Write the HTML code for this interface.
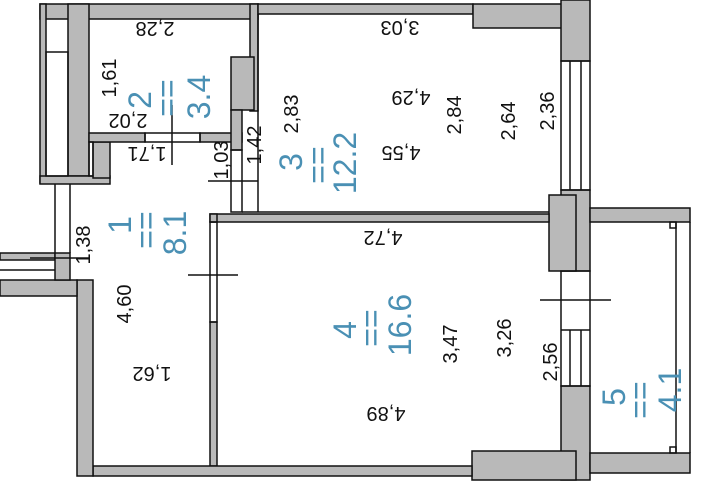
<!DOCTYPE html>
<html><head><style>
html,body{margin:0;padding:0;background:#fff;}
svg{display:block;}
text{font-family:"Liberation Sans",sans-serif;}
.d{font-size:20px;fill:#111;}
.b{font-size:32px;fill:#4a90b4;}
</style></head><body>
<svg width="702" height="492" viewBox="0 0 702 492" xmlns="http://www.w3.org/2000/svg">
<g fill="#b9b9b9" stroke="#111" stroke-width="1.5">
<rect x="40" y="4" width="218" height="15"/>
<rect x="40" y="4" width="6" height="179"/>
<rect x="68" y="4" width="21" height="172"/>
<rect x="40" y="176" width="70" height="8"/>
<rect x="93" y="142" width="17" height="36"/>
<rect x="89" y="133" width="56" height="9"/>
<rect x="200" y="133" width="42" height="9"/>
<rect x="250" y="4" width="8" height="107"/>
<rect x="231" y="57" width="23" height="53"/>
<rect x="231" y="110" width="11" height="40"/>
<rect x="258" y="4" width="215" height="10"/>
<rect x="473" y="4" width="100" height="24"/>
<rect x="561" y="0" width="29" height="61"/>
<rect x="561" y="190" width="29" height="81"/>
<rect x="549" y="195" width="27" height="76"/>
<rect x="210" y="214" width="339" height="8"/>
<rect x="210" y="214" width="7" height="8"/>
<rect x="210" y="322" width="7" height="144"/>
<rect x="561" y="386" width="29" height="94"/>
<rect x="472" y="451" width="104" height="29"/>
<rect x="93" y="466" width="379" height="10"/>
<rect x="77" y="280" width="16" height="196"/>
<rect x="0" y="280" width="77" height="16"/>
<rect x="0" y="253" width="55" height="7"/>
<rect x="55" y="253" width="15" height="27"/>
<rect x="590" y="208" width="100" height="14"/>
<rect x="590" y="453" width="100" height="20"/>
</g>
<g fill="none" stroke="#111" stroke-width="1.5">
<rect x="46" y="52" width="22" height="124"/>
<rect x="89" y="142" width="4" height="34"/>
<rect x="145" y="133" width="55" height="9"/>
<rect x="231" y="150" width="11" height="62"/>
<rect x="210" y="222" width="7" height="100"/>
<rect x="561" y="61" width="29" height="129"/>
<line x1="570" y1="61" x2="570" y2="190"/>
<line x1="581" y1="61" x2="581" y2="190"/>
<rect x="561" y="271" width="29" height="115"/>
<line x1="570" y1="330" x2="570" y2="386"/>
<line x1="581" y1="330" x2="581" y2="386"/>
<line x1="561" y1="330" x2="590" y2="330"/>
<line x1="676" y1="222" x2="676" y2="453"/>
<line x1="690" y1="222" x2="690" y2="453"/>
<rect x="670" y="222" width="6" height="6"/>
<rect x="670" y="447" width="6" height="6"/>
<line x1="55" y1="184" x2="55" y2="253"/>
<line x1="70" y1="184" x2="70" y2="253"/>
<line x1="0" y1="270" x2="55" y2="270"/>
<line x1="258" y1="14" x2="258" y2="212"/>
<line x1="242" y1="212" x2="549" y2="212"/>
<line x1="172" y1="105" x2="172" y2="165"/>
<line x1="208" y1="181" x2="258" y2="181"/>
<line x1="30" y1="258" x2="90" y2="258"/>
<line x1="188" y1="275" x2="238" y2="275"/>
<line x1="540" y1="300" x2="611" y2="300"/>
</g>
<g class="d" text-anchor="middle" dominant-baseline="central">
<text transform="translate(155,28) rotate(180)">2,28</text>
<text transform="translate(110,78) rotate(-90)">1,61</text>
<text transform="translate(128,120) rotate(180)">2,02</text>
<text transform="translate(147,153) rotate(180)">1,71</text>
<text transform="translate(222,160) rotate(-90)">1,03</text>
<text transform="translate(255,145) rotate(-90)">1,42</text>
<text transform="translate(292,114) rotate(-90)">2,83</text>
<text transform="translate(400,27) rotate(180)">3,03</text>
<text transform="translate(411,97) rotate(180)">4,29</text>
<text transform="translate(455,115) rotate(-90)">2,84</text>
<text transform="translate(509,121) rotate(-90)">2,64</text>
<text transform="translate(548,111) rotate(-90)">2,36</text>
<text transform="translate(401,152) rotate(180)">4,55</text>
<text transform="translate(84,245) rotate(-90)">1,38</text>
<text transform="translate(125,304) rotate(-90)">4,60</text>
<text transform="translate(152,373) rotate(180)">1,62</text>
<text transform="translate(383,237) rotate(180)">4,72</text>
<text transform="translate(451,344) rotate(-90)">3,47</text>
<text transform="translate(505,338) rotate(-90)">3,26</text>
<text transform="translate(551,362) rotate(-90)">2,56</text>
<text transform="translate(386,413) rotate(180)">4,89</text>
</g>
<g class="b" text-anchor="middle" dominant-baseline="central">
<text transform="translate(140,100) rotate(-90)">2</text>
<text transform="translate(167,98) rotate(-90)">==</text>
<text transform="translate(199,97) rotate(-90)">3.4</text>
<text transform="translate(291,162) rotate(-90)">3</text>
<text transform="translate(318,165) rotate(-90)">==</text>
<text transform="translate(345,163) rotate(-90)">12.2</text>
<text transform="translate(120,225) rotate(-90)">1</text>
<text transform="translate(146,230) rotate(-90)">==</text>
<text transform="translate(175,233) rotate(-90)">8.1</text>
<text transform="translate(345,330) rotate(-90)">4</text>
<text transform="translate(371,328) rotate(-90)">==</text>
<text transform="translate(400,325) rotate(-90)">16.6</text>
<text transform="translate(614,397) rotate(-90)">5</text>
<text transform="translate(640,400) rotate(-90)">==</text>
<text transform="translate(670,390) rotate(-90)">4.1</text>
</g>
</svg>
</body></html>
